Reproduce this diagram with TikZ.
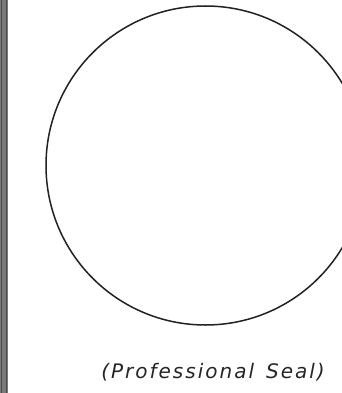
\documentclass[tikz,border=0pt]{standalone}
\usepackage{fontspec}
\newfontfamily\sealfont[LetterSpace=10]{DejaVu Sans}
\definecolor{bargray}{HTML}{7A7A7A}
\definecolor{bardark}{HTML}{4A4A4A}
\definecolor{linegray}{HTML}{222222}
\tikzset{
  sealcircle/.style={draw=linegray, line width=1.5pt},
  sealtext/.style={font=\sealfont\itshape\fontsize{20}{24}\selectfont, text=black!85, inner sep=0pt},
}
\begin{document}
\begin{tikzpicture}[x=1pt,y=-1pt]
  \useasboundingbox (0,0) rectangle (342,393);
  \fill[white] (0,0) rectangle (342,393);
  \begin{scope}
    \clip (0,0) rectangle (342,393);
    \node[sealcircle, circle, minimum size=319pt, inner sep=0pt] (seal) at (205.5,165.5) {};
  \end{scope}
  \fill[bargray] (0,0) rectangle (7.5,393);
  \draw[bardark, line width=1pt] (1.5,0) -- (1.5,393);
  \draw[bardark, line width=1pt] (6,0) -- (6,393);
  \node[sealtext, anchor=base] (label) at (213,378) {(Professional\hspace{0.6em}Seal)};
\end{tikzpicture}
\end{document}
